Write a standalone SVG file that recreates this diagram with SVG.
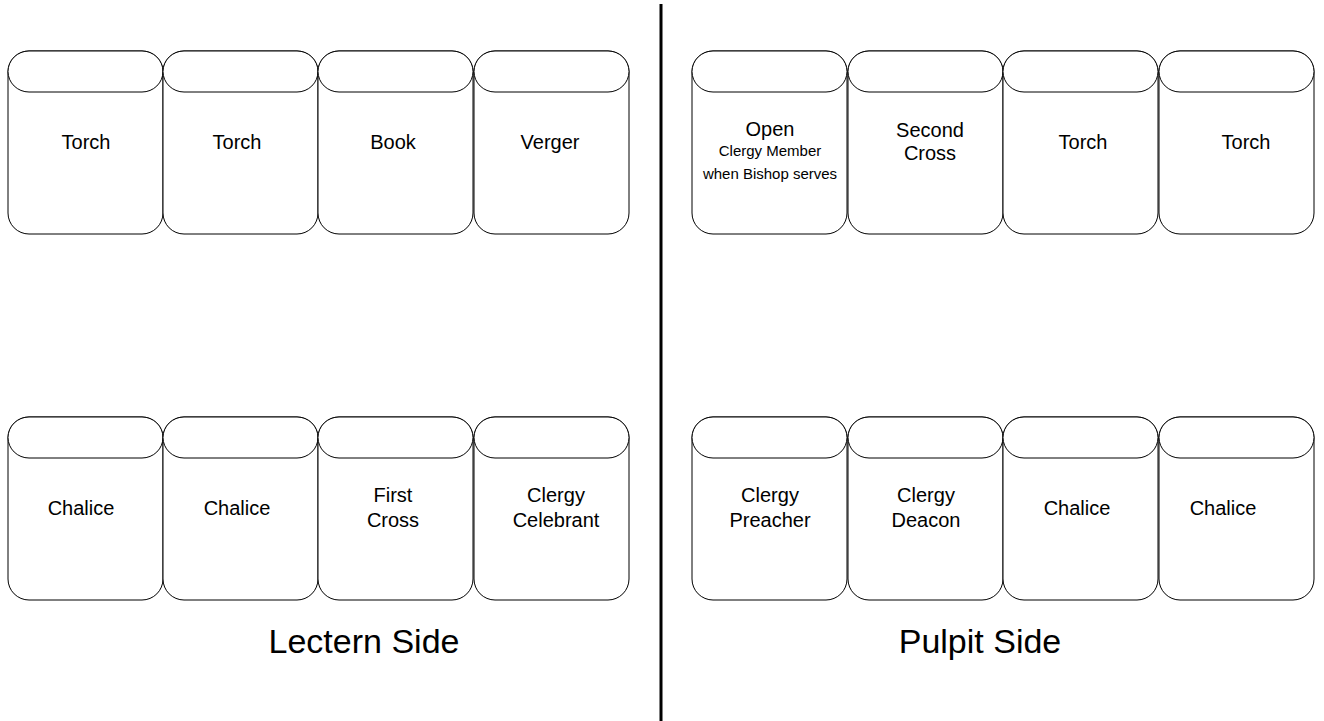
<svg xmlns="http://www.w3.org/2000/svg" width="1324" height="721" viewBox="0 0 1324 721">
  <style>
    .body { fill: #fff; stroke: #000; stroke-width: 1; }
    .cap { fill: #fff; stroke: #000; stroke-width: 1; }
    text { font-family: "Liberation Sans", Arial, sans-serif; fill: #000; text-anchor: middle; }
    .lbl { font-size: 20px; }
    .sm { font-size: 15px; }
    .side { font-size: 34px; }
  </style>
  <defs>
    <!-- one stall: rounded body with a pill-shaped cap on top -->
    <g id="stall">
      <rect class="body" x="0" y="0" width="155" height="183" rx="21" ry="21"/>
      <rect class="cap" x="0" y="0" width="155" height="41" rx="21" ry="20.5"/>
    </g>
  </defs>

  <rect width="1324" height="721" fill="#fff"/>

  <!-- centre aisle divider -->
  <g id="connectors">
    <line x1="661" y1="4" x2="661" y2="721" stroke="#000" stroke-width="3"/>
  </g>

  <!-- Lectern side, front row -->
  <g id="l-top-1"><use href="#stall" x="8" y="51"/><text class="lbl" x="86" y="149">Torch</text></g>
  <g id="l-top-2"><use href="#stall" x="163" y="51"/><text class="lbl" x="237" y="149">Torch</text></g>
  <g id="l-top-3"><use href="#stall" x="318" y="51"/><text class="lbl" x="393" y="149">Book</text></g>
  <g id="l-top-4"><use href="#stall" x="474" y="51"/><text class="lbl" x="550" y="149">Verger</text></g>

  <!-- Pulpit side, front row -->
  <g id="p-top-1"><use href="#stall" x="692" y="51"/>
    <text class="lbl" x="770" y="136">Open</text>
    <text class="sm" x="770" y="156">Clergy Member</text>
    <text class="sm" x="770" y="179">when Bishop serves</text>
  </g>
  <g id="p-top-2"><use href="#stall" x="848" y="51"/>
    <text class="lbl" x="930" y="137">Second</text>
    <text class="lbl" x="930" y="160">Cross</text>
  </g>
  <g id="p-top-3"><use href="#stall" x="1003" y="51"/><text class="lbl" x="1083" y="149">Torch</text></g>
  <g id="p-top-4"><use href="#stall" x="1159" y="51"/><text class="lbl" x="1246" y="149">Torch</text></g>

  <!-- Lectern side, back row -->
  <g id="l-bot-1"><use href="#stall" x="8" y="417"/><text class="lbl" x="81" y="515">Chalice</text></g>
  <g id="l-bot-2"><use href="#stall" x="163" y="417"/><text class="lbl" x="237" y="515">Chalice</text></g>
  <g id="l-bot-3"><use href="#stall" x="318" y="417"/>
    <text class="lbl" x="393" y="502">First</text>
    <text class="lbl" x="393" y="527">Cross</text>
  </g>
  <g id="l-bot-4"><use href="#stall" x="474" y="417"/>
    <text class="lbl" x="556" y="502">Clergy</text>
    <text class="lbl" x="556" y="527">Celebrant</text>
  </g>

  <!-- Pulpit side, back row -->
  <g id="p-bot-1"><use href="#stall" x="692" y="417"/>
    <text class="lbl" x="770" y="502">Clergy</text>
    <text class="lbl" x="770" y="527">Preacher</text>
  </g>
  <g id="p-bot-2"><use href="#stall" x="848" y="417"/>
    <text class="lbl" x="926" y="502">Clergy</text>
    <text class="lbl" x="926" y="527">Deacon</text>
  </g>
  <g id="p-bot-3"><use href="#stall" x="1003" y="417"/><text class="lbl" x="1077" y="515">Chalice</text></g>
  <g id="p-bot-4"><use href="#stall" x="1159" y="417"/><text class="lbl" x="1223" y="515">Chalice</text></g>

  <!-- side captions -->
  <g id="lectern-side"><text class="side" x="364" y="653">Lectern Side</text></g>
  <g id="pulpit-side"><text class="side" x="980" y="653">Pulpit Side</text></g>
</svg>
